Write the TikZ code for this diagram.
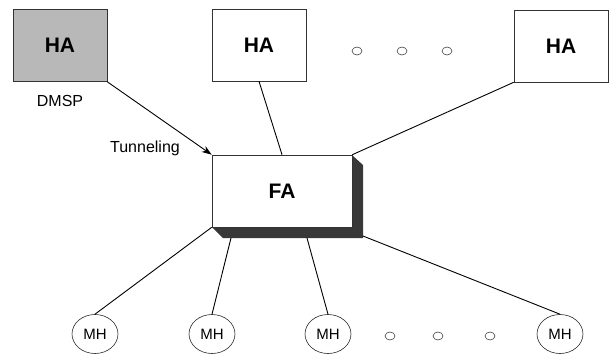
\documentclass[tikz,border=0pt]{standalone}
\usepackage{fontspec}
\setmainfont{Liberation Sans}
\usetikzlibrary{arrows.meta,shapes.geometric}
\begin{document}
\begin{tikzpicture}[x=1pt,y=-1pt,
  agent/.style={draw=black!80,line width=0.6pt,minimum width=94pt,minimum height=72pt,inner sep=0pt,font=\fontsize{21}{24}\selectfont\bfseries},
  mhnode/.style={draw=black!85,line width=0.6pt,ellipse,minimum width=46pt,minimum height=39pt,inner sep=0pt,font=\fontsize{15}{17}\selectfont},
  dot/.style={draw=black!80,line width=0.5pt,ellipse,minimum width=10pt,minimum height=8pt,inner sep=0pt},
  link/.style={line width=0.9pt},
  lbl/.style={font=\fontsize{16}{18}\selectfont,inner sep=0pt}]
\useasboundingbox (0,0) rectangle (611,354);
\clip (0,0) rectangle (611,354);
% home agents
\node[agent,fill=black!28] (ha1) at (60,45.5) {HA};
\node[agent] (ha2) at (259,45) {HA};
\node[agent] (ha3) at (561,46) {HA};
\node[lbl] (dmsp) at (60,101) {DMSP};
% dots between HAs
\node[dot] (d1) at (357,51) {};
\node[dot] (d2) at (402,51) {};
\node[dot] (d3) at (447,51) {};
% foreign agent with shadow
\fill[black!78] (352,155) -- (363,165) -- (363,238) -- (223,238) -- (212,227) -- (352,227) -- cycle;
\node[draw=black!80,line width=0.6pt,fill=white,minimum width=140pt,minimum height=72pt,inner sep=0pt,font=\fontsize{21}{24}\selectfont\bfseries] (fa) at (282,191) {FA};
\coordinate (s2) at (231,238);
\coordinate (s3) at (307,238);
\coordinate (s4) at (363,236);
% mobile hosts
\node[mhnode] (mh1) at (95,334) {MH};
\node[mhnode] (mh2) at (212,334) {MH};
\node[mhnode] (mh3) at (328,334) {MH};
\node[mhnode] (mh4) at (560,334) {MH};
\node[dot] (e1) at (390,336) {};
\node[dot] (e2) at (438,336) {};
\node[dot] (e3) at (490,336) {};
% connectors
\draw[link,-{Stealth[length=10pt,width=7pt]}] (ha1.south east) -- (fa.north west);
\node[lbl] (tun) at (145,148) {Tunneling};
\draw[link] (ha2.south) -- (fa.north);
\draw[link] (ha3.south west) -- (fa.north east);
\draw[link] (fa.south west) -- (mh1.north);
\draw[link] (s2) -- (mh2.north);
\draw[link] (s3) -- (mh3.north);
\draw[link] (s4) -- (mh4.north);
\end{tikzpicture}
\end{document}
